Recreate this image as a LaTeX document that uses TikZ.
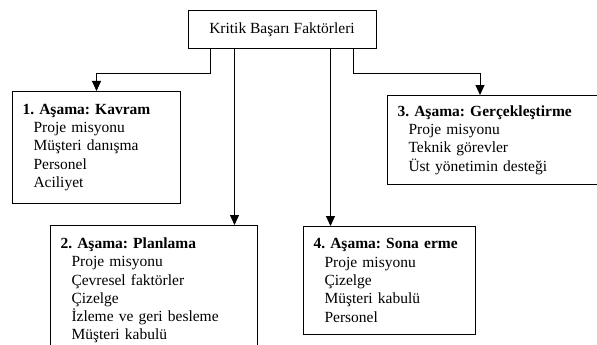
\documentclass[tikz,border=0pt]{standalone}
\usepackage{fontspec}
\setmainfont{Liberation Serif}
\usetikzlibrary{arrows.meta, calc}
\newcommand{\ind}{\hspace*{11pt}}
\frenchspacing

\begin{document}
\begin{tikzpicture}[x=1pt, y=1pt, >={Triangle[length=10pt, width=9pt]}, line width=1pt,
    every node/.style={font=\fontsize{15.5}{18.3}\selectfont},
    stage/.style={draw, anchor=north west, align=left, inner xsep=10pt, inner ysep=0pt}]
  \useasboundingbox (0,0) rectangle (597,-345);
  \node[draw, minimum width=188, minimum height=38] (kbf) at (282,-30) {Kritik Başarı Faktörleri};
  \node[stage, text width=148, minimum height=112] (kavram) at (12,-91) {\textbf{1. Aşama: Kavram}\\\ind Proje misyonu\\\ind Müşteri danışma\\\ind Personel\\\ind Aciliyet};
  \node[stage, text width=213, minimum height=89] (gercek) at (387,-95) {\textbf{3. Aşama: Gerçekleştirme}\\\ind Proje misyonu\\\ind Teknik görevler\\\ind Üst yönetimin desteği};
  \node[stage, text width=187, minimum height=130] (planlama) at (50,-225) {\textbf{2. Aşama: Planlama}\\\ind Proje misyonu\\\ind Çevresel faktörler\\\ind Çizelge\\\ind İzleme ve geri besleme\\\ind Müşteri kabulü};
  \node[stage, text width=152, minimum height=108] (sona) at (303,-226) {\textbf{4. Aşama: Sona erme}\\\ind Proje misyonu\\\ind Çizelge\\\ind Müşteri kabulü\\\ind Personel};
  \draw[->] ($(kbf.south west)+(23,0)$) -- ++(0,-24) -| (kavram.north);
  \draw[->] ($(kbf.south west)+(47,0)$) coordinate (p2) -- (p2 |- planlama.north);
  \draw[->] ($(kbf.south west)+(143,0)$) coordinate (p4) -- (p4 |- sona.north);
  \draw[->] ($(kbf.south west)+(166,0)$) -- ++(0,-24) -| ($(gercek.north west)+(93,0)$);
\end{tikzpicture}
\end{document}
